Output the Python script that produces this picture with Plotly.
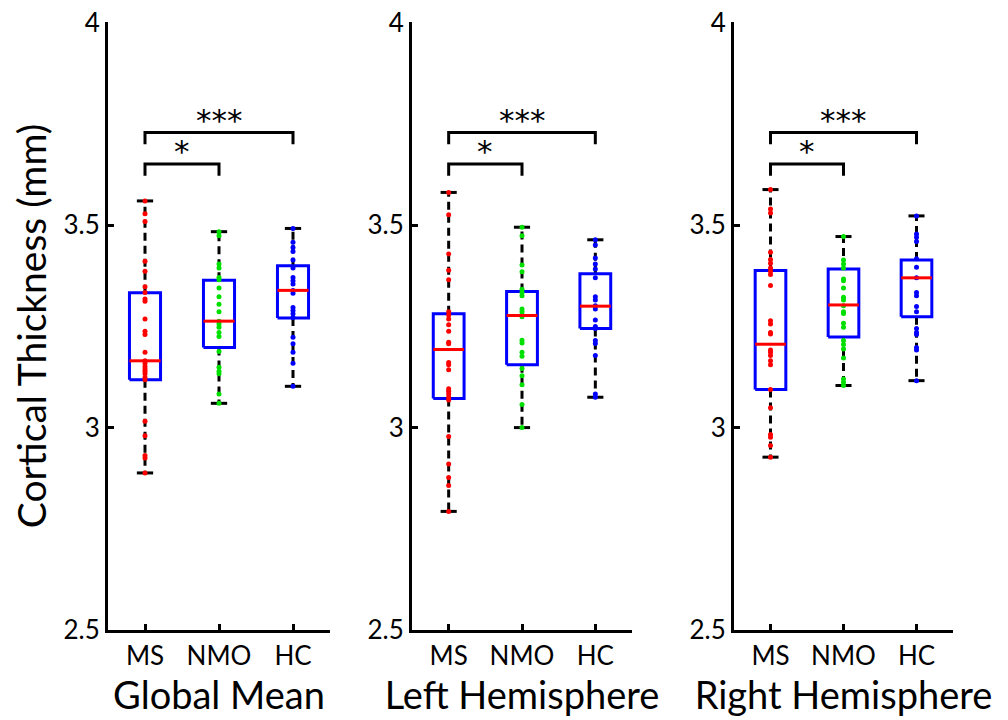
import plotly.graph_objects as go

groups = ["MS", "NMO", "HC"]
group_pos = [1, 2, 3]
panel_titles = ["Global Mean", "Left Hemisphere", "Right Hemisphere"]
y_ticks = [2.5, 3, 3.5, 4]
y_ticktext = ["2.5", "3", "3.5", "4"]
y_title = "Cortical Thickness (mm)"

# ---- Global Mean: individual subjects ----
global_ms = [3.560, 3.528, 3.509, 3.411, 3.386, 3.348, 3.334, 3.318, 3.312, 3.268,
             3.238, 3.230, 3.186, 3.165, 3.159, 3.151, 3.145, 3.139, 3.133, 3.124,
             3.118, 3.016, 2.980, 2.931, 2.925, 2.888]
global_nmo = [3.484, 3.474, 3.404, 3.394, 3.371, 3.365, 3.345, 3.323, 3.305, 3.286,
              3.263, 3.256, 3.248, 3.235, 3.225, 3.188, 3.149, 3.139, 3.133, 3.083, 3.060]
global_hc = [3.492, 3.458, 3.445, 3.435, 3.414, 3.394, 3.371, 3.363, 3.355, 3.339,
             3.332, 3.297, 3.289, 3.281, 3.272, 3.223, 3.207, 3.186, 3.159, 3.102]
# box statistics (MS, NMO, HC)
global_q1 = [3.118, 3.198, 3.271]
global_median = [3.165, 3.263, 3.339]
global_q3 = [3.333, 3.364, 3.400]
global_lower = [2.888, 3.060, 3.102]
global_upper = [3.560, 3.484, 3.492]

# ---- Left Hemisphere ----
left_ms = [3.581, 3.526, 3.429, 3.389, 3.365, 3.286, 3.278, 3.268, 3.254, 3.238,
           3.211, 3.207, 3.161, 3.155, 3.143, 3.096, 3.090, 3.083, 3.075, 3.068,
           2.978, 2.910, 2.877, 2.857, 2.793]
left_nmo = [3.495, 3.474, 3.402, 3.385, 3.342, 3.334, 3.326, 3.293, 3.286, 3.279,
            3.274, 3.216, 3.209, 3.186, 3.176, 3.146, 3.128, 3.106, 3.057, 3.000]
left_hc = [3.464, 3.451, 3.419, 3.404, 3.392, 3.370, 3.323, 3.315, 3.301, 3.293,
           3.266, 3.250, 3.245, 3.215, 3.208, 3.178, 3.083, 3.075]
left_q1 = [3.072, 3.155, 3.245]
left_median = [3.193, 3.277, 3.300]
left_q3 = [3.281, 3.336, 3.380]
left_lower = [2.793, 3.000, 3.075]
left_upper = [3.581, 3.495, 3.464]

# ---- Right Hemisphere ----
right_ms = [3.588, 3.540, 3.530, 3.433, 3.415, 3.406, 3.394, 3.386, 3.378, 3.351,
            3.264, 3.256, 3.235, 3.231, 3.192, 3.186, 3.178, 3.165, 3.155, 3.094,
            3.049, 2.983, 2.976, 2.956, 2.927]
right_nmo = [3.472, 3.414, 3.404, 3.394, 3.367, 3.363, 3.345, 3.322, 3.315, 3.301,
             3.286, 3.282, 3.258, 3.248, 3.215, 3.205, 3.194, 3.172, 3.120, 3.112, 3.104]
right_hc = [3.523, 3.478, 3.470, 3.460, 3.417, 3.396, 3.370, 3.334, 3.326, 3.299,
            3.286, 3.245, 3.235, 3.230, 3.198, 3.192, 3.116]
right_q1 = [3.094, 3.224, 3.274]
right_median = [3.206, 3.303, 3.370]
right_q3 = [3.388, 3.392, 3.414]
right_lower = [2.927, 3.104, 3.116]
right_upper = [3.588, 3.472, 3.523]

# significance brackets: (from group, to group, label, bracket height)
sig_from = [1, 1]
sig_to = [2, 3]
sig_labels = ["*", "***"]
sig_heights = [3.651, 3.729]
sig_drop = 0.029

point_colors = ["#ff0000", "#00e000", "#0000ff"]
BOX_HALF = 0.21
CAP_HALF = 0.11

panels = [
    ([global_ms, global_nmo, global_hc], global_q1, global_median, global_q3, global_lower, global_upper),
    ([left_ms, left_nmo, left_hc], left_q1, left_median, left_q3, left_lower, left_upper),
    ([right_ms, right_nmo, right_hc], right_q1, right_median, right_q3, right_lower, right_upper),
]

# panel placement in pixels (page body margin removed, figure at 0,0)
W, H = 1008, 720
x_domains_px = [(108, 330), (412, 632), (734, 953)]
y_domain_px = (22, 630)

fig = go.Figure()

font_family = "Lato, 'Open Sans', sans-serif"
star_font = "'DejaVu Sans', sans-serif"

for p, (points, q1, med, q3, lo, hi) in enumerate(panels):
    xa = "x" if p == 0 else f"x{p+1}"
    ya = "y" if p == 0 else f"y{p+1}"
    for g, pos in enumerate(group_pos):
        # whiskers (dashed)
        fig.add_trace(go.Scatter(
            x=[pos, pos, None, pos, pos], y=[q3[g], hi[g], None, q1[g], lo[g]],
            mode="lines", line=dict(color="black", width=3, dash="8px,5px"),
            xaxis=xa, yaxis=ya, hoverinfo="skip", showlegend=False))
        # caps
        fig.add_trace(go.Scatter(
            x=[pos - CAP_HALF, pos + CAP_HALF, None, pos - CAP_HALF, pos + CAP_HALF],
            y=[hi[g], hi[g], None, lo[g], lo[g]],
            mode="lines", line=dict(color="black", width=3),
            xaxis=xa, yaxis=ya, hoverinfo="skip", showlegend=False))
        # box
        fig.add_trace(go.Scatter(
            x=[pos - BOX_HALF, pos + BOX_HALF, pos + BOX_HALF, pos - BOX_HALF, pos - BOX_HALF],
            y=[q1[g], q1[g], q3[g], q3[g], q1[g]],
            mode="lines", line=dict(color="#0000ff", width=3),
            xaxis=xa, yaxis=ya, hoverinfo="skip", showlegend=False))
        # individual points
        fig.add_trace(go.Scatter(
            x=[pos] * len(points[g]), y=points[g], mode="markers",
            marker=dict(color=point_colors[g], size=5),
            xaxis=xa, yaxis=ya, name=groups[g], showlegend=False))
        # median
        fig.add_trace(go.Scatter(
            x=[pos - BOX_HALF, pos + BOX_HALF], y=[med[g], med[g]],
            mode="lines", line=dict(color="#ff0000", width=3),
            xaxis=xa, yaxis=ya, hoverinfo="skip", showlegend=False))
    # significance brackets
    for a, b, lab, h in zip(sig_from, sig_to, sig_labels, sig_heights):
        fig.add_trace(go.Scatter(
            x=[a, a, b, b], y=[h - sig_drop, h, h, h - sig_drop],
            mode="lines", line=dict(color="black", width=3),
            xaxis=xa, yaxis=ya, hoverinfo="skip", showlegend=False))
        fig.add_annotation(x=(a + b) / 2, y=h, xref=xa, yref=ya, text=lab,
                           showarrow=False, yanchor="middle", yshift=13,
                           font=dict(family=star_font, size=31, color="black"))

    dom = x_domains_px[p]
    axis_common = dict(showline=True, linecolor="black", linewidth=3,
                       ticks="inside", tickcolor="black", tickwidth=3, ticklen=6,
                       showgrid=False, zeroline=False, automargin=False,
                       ticklabeloverflow="allow",
                       tickfont=dict(family=font_family, size=26, color="black"))
    fig.layout[("xaxis" if p == 0 else f"xaxis{p+1}")] = dict(
        domain=[dom[0] / W, dom[1] / W], range=[0.5, 3.5], anchor=ya,
        tickvals=group_pos, ticktext=groups, ticklabelstandoff=1,
        title=dict(text=panel_titles[p], standoff=5,
                   font=dict(family=font_family, size=38, color="black")),
        **axis_common)
    ydict = dict(domain=[1 - y_domain_px[1] / H, 1 - y_domain_px[0] / H],
                 range=[2.5, 4.002], anchor=xa, tickvals=y_ticks, ticktext=y_ticktext,
                 **axis_common)
    if p == 0:
        ydict["title"] = dict(text=y_title, standoff=5,
                              font=dict(family=font_family, size=39, color="black"))
    fig.layout[("yaxis" if p == 0 else f"yaxis{p+1}")] = ydict

fig.update_layout(width=W, height=H, margin=dict(l=0, r=0, t=0, b=0),
                  plot_bgcolor="white", paper_bgcolor="white", showlegend=False)

fig.write_html("out.html", config={"displayModeBar": False},
               post_script="document.body.style.margin='0';document.body.style.overflow='hidden';")
